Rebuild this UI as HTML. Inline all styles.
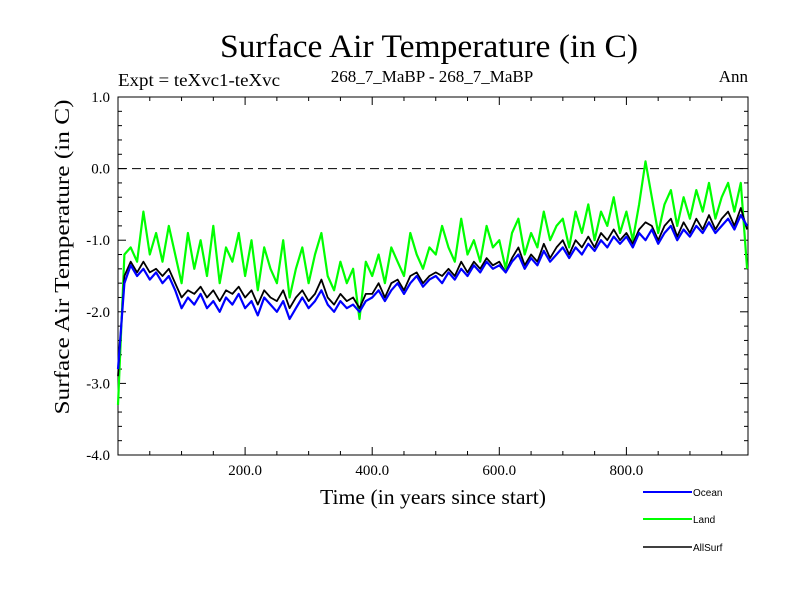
<!DOCTYPE html>
<html><head><meta charset="utf-8"><style>
body{margin:0;background:#fff;width:800px;height:600px;overflow:hidden}
svg{font-family:"Liberation Serif",serif}
</style></head><body>
<svg id="chart" width="800" height="600">
<text x="429" y="57" font-size="33" text-anchor="middle" textLength="418" lengthAdjust="spacingAndGlyphs">Surface Air Temperature (in C)</text>
<text x="118" y="86" font-size="18" textLength="162" lengthAdjust="spacingAndGlyphs">Expt = teXvc1-teXvc</text>
<text x="432" y="82" font-size="17" text-anchor="middle">268_7_MaBP - 268_7_MaBP</text>
<text x="748" y="82" font-size="17" text-anchor="end">Ann</text>
<text x="433" y="504" font-size="21" text-anchor="middle" textLength="226" lengthAdjust="spacingAndGlyphs">Time (in years since start)</text>
<text transform="translate(69,257) rotate(-90)" font-size="21" text-anchor="middle" textLength="315" lengthAdjust="spacingAndGlyphs">Surface Air Temperature (in C)</text>
<g id="axes"></g>
<g id="series"></g>
<g font-family="Liberation Sans, sans-serif" font-size="10">
<line x1="643" y1="492" x2="692" y2="492" stroke="#0000ff" stroke-width="2"/>
<text x="693" y="496">Ocean</text>
<line x1="643" y1="519" x2="692" y2="519" stroke="#00ff00" stroke-width="2"/>
<text x="693" y="523">Land</text>
<line x1="643" y1="547" x2="692" y2="547" stroke="#000" stroke-width="1.5"/>
<text x="693" y="551">AllSurf</text>
</g>
</svg>
<script>
const years = Array.from({length:100},(_,i)=>i*10);
const ocean = [-2.8,-1.6,-1.35,-1.5,-1.4,-1.55,-1.45,-1.6,-1.5,-1.7,
-1.95,-1.8,-1.9,-1.75,-1.95,-1.85,-2.0,-1.8,-1.9,-1.75,
-1.95,-1.85,-2.05,-1.8,-1.9,-2.0,-1.85,-2.1,-1.95,-1.8,
-1.95,-1.85,-1.7,-1.9,-2.0,-1.85,-1.95,-1.9,-2.0,-1.85,
-1.8,-1.7,-1.85,-1.7,-1.6,-1.75,-1.6,-1.5,-1.65,-1.55,
-1.5,-1.6,-1.45,-1.55,-1.4,-1.5,-1.35,-1.45,-1.3,-1.4,
-1.35,-1.45,-1.3,-1.2,-1.4,-1.25,-1.35,-1.15,-1.3,-1.2,
-1.1,-1.25,-1.1,-1.2,-1.05,-1.15,-1.0,-1.1,-0.95,-1.05,
-0.95,-1.1,-0.9,-1.0,-0.85,-1.05,-0.9,-0.8,-1.0,-0.85,
-0.95,-0.8,-0.9,-0.75,-0.9,-0.8,-0.7,-0.85,-0.65,-0.8];
const land = [-3.3,-1.2,-1.1,-1.3,-0.6,-1.2,-0.9,-1.3,-0.8,-1.2,
-1.6,-0.9,-1.4,-1.0,-1.5,-0.8,-1.6,-1.1,-1.3,-0.9,
-1.5,-1.0,-1.7,-1.1,-1.4,-1.6,-1.0,-1.8,-1.4,-1.1,
-1.6,-1.2,-0.9,-1.5,-1.7,-1.3,-1.6,-1.4,-2.1,-1.3,
-1.5,-1.2,-1.6,-1.1,-1.3,-1.5,-0.9,-1.2,-1.4,-1.1,
-1.2,-0.8,-1.1,-1.3,-0.7,-1.2,-1.0,-1.3,-0.8,-1.1,
-1.0,-1.4,-0.9,-0.7,-1.2,-0.9,-1.1,-0.6,-1.0,-0.8,
-0.7,-1.1,-0.6,-0.9,-0.5,-1.0,-0.6,-0.8,-0.4,-0.9,
-0.6,-1.0,-0.5,0.1,-0.4,-0.9,-0.5,-0.3,-0.8,-0.4,
-0.7,-0.3,-0.6,-0.2,-0.7,-0.4,-0.2,-0.6,-0.2,-1.4];
const allsurf = [-2.9,-1.5,-1.3,-1.45,-1.3,-1.45,-1.4,-1.5,-1.4,-1.6,
-1.8,-1.7,-1.75,-1.65,-1.8,-1.7,-1.85,-1.7,-1.75,-1.65,
-1.8,-1.7,-1.9,-1.7,-1.8,-1.85,-1.7,-1.95,-1.8,-1.7,
-1.85,-1.75,-1.55,-1.8,-1.9,-1.75,-1.85,-1.8,-1.95,-1.75,
-1.75,-1.6,-1.8,-1.6,-1.55,-1.7,-1.5,-1.45,-1.6,-1.5,
-1.45,-1.5,-1.4,-1.5,-1.3,-1.45,-1.3,-1.4,-1.25,-1.35,
-1.3,-1.45,-1.25,-1.1,-1.35,-1.2,-1.3,-1.05,-1.25,-1.1,
-1.0,-1.2,-1.0,-1.1,-0.95,-1.1,-0.9,-1.0,-0.85,-1.0,
-0.9,-1.05,-0.85,-0.75,-0.8,-1.0,-0.8,-0.7,-0.95,-0.75,
-0.9,-0.7,-0.85,-0.65,-0.85,-0.7,-0.6,-0.8,-0.55,-0.85];
const yTicks = [1.0,0.0,-1.0,-2.0,-3.0,-4.0];
const yTickLabels = ["1.0","0.0","-1.0","-2.0","-3.0","-4.0"];
const xTicks = [200,400,600,800];
const xTickLabels = ["200.0","400.0","600.0","800.0"];

const L=118,R=748,T=97,B=455,ns="http://www.w3.org/2000/svg";
const xs=v=>L+v*0.6355, ys=v=>T+(1-v)*(B-T)/5;
function mk(tag,attrs,parent){const e=document.createElementNS(ns,tag);for(const k in attrs)e.setAttribute(k,attrs[k]);parent.appendChild(e);return e;}
const ax=document.getElementById('axes'), sg=document.getElementById('series');
const frame=mk('rect',{x:L,y:T,width:R-L,height:B-T,fill:'none',stroke:'#000','stroke-width':1},ax);


const zl=mk('line',{x1:L,x2:R,y1:ys(0),y2:ys(0),stroke:'#000','stroke-dasharray':'9,5','stroke-width':1},ax);


yTicks.forEach((v,i)=>{
  mk('line',{x1:L,x2:L+8,y1:ys(v),y2:ys(v),stroke:'#000'},ax);
  mk('line',{x1:R,x2:R-8,y1:ys(v),y2:ys(v),stroke:'#000'},ax);
  if(i<yTicks.length-1){for(let k=1;k<5;k++){const yy=ys(v-k*0.2);mk('line',{x1:L,x2:L+4,y1:yy,y2:yy,stroke:'#000'},ax);mk('line',{x1:R,x2:R-4,y1:yy,y2:yy,stroke:'#000'},ax);}}
  const t=mk('text',{x:L-8,y:ys(v)+5,'font-size':15,'text-anchor':'end'},ax);t.textContent=yTickLabels[i];
  
  
});
for(let yr=50;yr<990;yr+=50){const big=yr%200===0;const x=xs(yr);
  mk('line',{x1:x,x2:x,y1:B,y2:B-(big?8:4),stroke:'#000'},ax);
  mk('line',{x1:x,x2:x,y1:T,y2:T+(big?8:4),stroke:'#000'},ax);}
xTicks.forEach((v,i)=>{const t=mk('text',{x:xs(v),y:B+20,'font-size':15,'text-anchor':'middle'},ax);t.textContent=xTickLabels[i];
  
  });
function line(vals,color,w,name){
  const d=vals.map((v,i)=>(i?'L':'M')+xs(years[i]).toFixed(1)+','+ys(v).toFixed(1)).join('');
  const p=mk('path',{d:d,fill:'none',stroke:color,'stroke-width':w,'stroke-linejoin':'round'},sg);
  
  
}
line(land,'#00ff00',2.2,'land-series');
line(allsurf,'#000000',1.8,'allsurf-series');
line(ocean,'#0000ff',2.2,'ocean-series');
</script>
</body></html>
